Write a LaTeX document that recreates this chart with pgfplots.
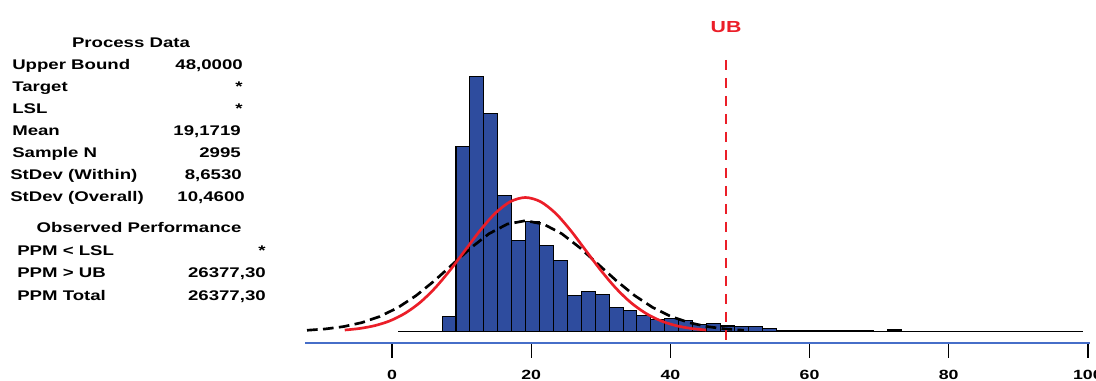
\documentclass[border=0pt]{standalone}
\usepackage{pgfplots}
\pgfplotsset{compat=1.18}
\usepackage{fontspec}
\setmainfont{Liberation Sans}[FakeStretch=1.33]
\definecolor{barblue}{RGB}{46,76,158}
\definecolor{axblue}{RGB}{70,110,200}
\definecolor{ubred}{RGB}{235,30,40}
\begin{document}
\begin{tikzpicture}
\useasboundingbox (0,0) rectangle (822pt,285.75pt);
% ---------- left text panel (x,y in reference pixels, y from top) ----------
\begin{scope}[x=0.75pt,y=-0.75pt,shift={(0,285.75pt)},font=\fontsize{10.5}{12}\selectfont\bfseries]
\node[anchor=base,inner sep=0pt] at (131,48) {Process Data};
\node[anchor=base west,inner sep=0pt] at (12,69.5) {Upper Bound};
\node[anchor=base east,inner sep=0pt] at (243,69.5) {48,0000};
\node[anchor=base west,inner sep=0pt] at (12,91.5) {Target};
\node[anchor=base east,inner sep=0pt] at (243,91.5) {*};
\node[anchor=base west,inner sep=0pt] at (12,113.5) {LSL};
\node[anchor=base east,inner sep=0pt] at (243,113.5) {*};
\node[anchor=base west,inner sep=0pt] at (12,135.5) {Mean};
\node[anchor=base east,inner sep=0pt] at (241,135.5) {19,1719};
\node[anchor=base west,inner sep=0pt] at (12,157.5) {Sample N};
\node[anchor=base east,inner sep=0pt] at (241,157.5) {2995};
\node[anchor=base west,inner sep=0pt] at (10,180) {StDev (Within)};
\node[anchor=base east,inner sep=0pt] at (242,180) {8,6530};
\node[anchor=base west,inner sep=0pt] at (10,202) {StDev (Overall)};
\node[anchor=base east,inner sep=0pt] at (245,202) {10,4600};
\node[anchor=base,inner sep=0pt] at (139,233) {Observed Performance};
\node[anchor=base west,inner sep=0pt] at (17,255.5) {PPM < LSL};
\node[anchor=base east,inner sep=0pt] at (266,255.5) {*};
\node[anchor=base west,inner sep=0pt] at (17,278) {PPM > UB};
\node[anchor=base east,inner sep=0pt] at (266,278) {26377,30};
\node[anchor=base west,inner sep=0pt] at (17,301) {PPM Total};
\node[anchor=base east,inner sep=0pt] at (266,301) {26377,30};
\end{scope}
% ---------- histogram ----------
\begin{axis}[at={(228.75pt,28.5pt)}, anchor=south west, scale only axis,
  width=588.75pt, height=212.25pt,
  xmin=-12.5, xmax=100.3, ymin=-11.5, ymax=271.5,
  axis x line=bottom, axis y line=none,
  axis line style={axblue, line width=1pt, -},
  xtick={0,20,40,60,80,100},
  tick align=outside, major tick length=11.25pt,
  xtick style={black, line width=1pt},
  /pgf/number format/assume math mode=true,
  xticklabel style={font=\fontsize{10}{10}\selectfont\bfseries, yshift=-5.5pt},
  clip=false]
\addplot[ybar, bar width=2, bar shift=0pt, fill=barblue, draw=black, line width=0.8pt]
  coordinates {
  (8.2,15) (10.2,185) (12.2,255) (14.2,218) (16.2,136) (18.2,91)
  (20.2,110) (22.2,86) (24.2,71) (26.2,36) (28.2,40) (30.2,37)
  (32.2,24) (34.2,21) (36.2,16) (38.2,12) (40.2,13) (42.2,11)
  (44.2,7) (46.2,8) (48.2,5.5) (50.2,5) (52.2,5) (54.2,3)
  (56.2,0.8) (58.2,0.8) (60.2,0.8) (62.2,0.8) (64.2,0.8) (66.2,0.8) (68.2,0.8)
  (72.2,1.5)
  };
\addplot[black, line width=0.8pt] coordinates {(0.9,0) (99.3,0)};
% overall normal curve (black dashed)
\addplot[black, line width=2pt, dash pattern=on 8pt off 4pt] coordinates {
  (-12.21,1.23) (-9.60,2.53) (-6.98,4.87) (-4.37,8.82) (-1.75,15.00)
  (0.87,23.96) (3.48,35.97) (6.10,50.73) (8.71,67.20) (11.33,83.64)
  (13.94,97.78) (16.56,107.39) (19.17,110.8) (21.78,107.39) (24.40,97.78)
  (27.02,83.64) (29.63,67.20) (32.25,50.73) (34.86,35.97) (37.48,23.96)
  (40.09,15.00) (42.71,8.82) (45.32,4.87) (47.94,2.53) (50.55,1.23)
  };
% within normal curve (red)
\addplot[ubred, line width=2pt, smooth] coordinates {
  (-6.79,1.49) (-4.63,3.05) (-2.46,5.89) (-0.30,10.66) (1.86,18.14)
  (4.03,28.98) (6.19,43.50) (8.35,61.35) (10.52,81.27) (12.68,101.15)
  (14.84,118.26) (17.01,129.88) (19.17,134) (21.33,129.88) (23.50,118.26)
  (25.66,101.15) (27.82,81.27) (29.99,61.35) (32.15,43.50) (34.31,28.98)
  (36.48,18.14) (38.64,10.66) (40.80,5.89) (42.97,3.05) (45.13,1.49)
  };
% upper bound
\addplot[ubred, line width=1.5pt, dash pattern=on 7.5pt off 6pt] coordinates {(48,271.5) (48,-11.5)};
\node[text=ubred, font=\fontsize{12}{12}\selectfont\bfseries, anchor=center, yshift=24.75pt] at (axis cs:48,271.5) {UB};
\end{axis}
\end{tikzpicture}
\end{document}
